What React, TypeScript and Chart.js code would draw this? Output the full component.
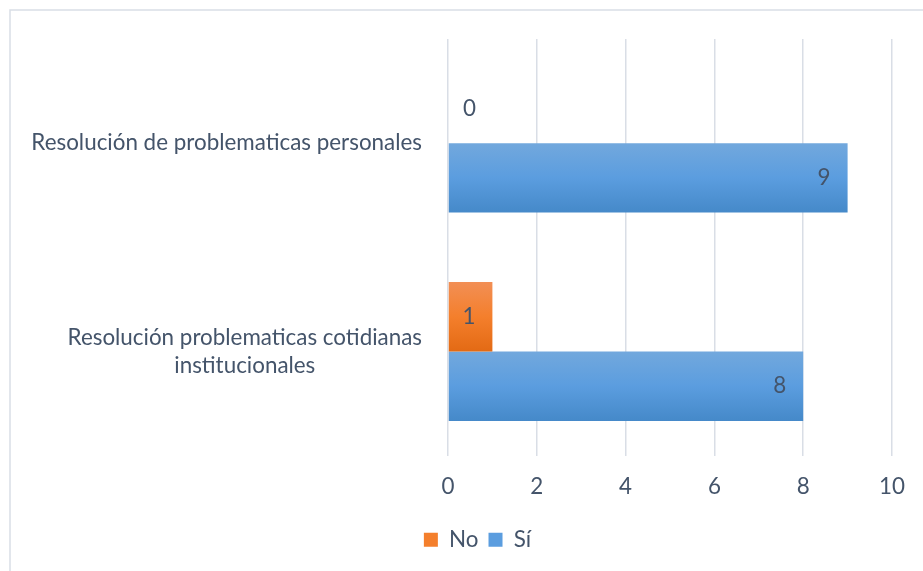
import { useEffect, useRef } from 'react';
import { Chart, registerables } from 'chart.js';
Chart.register(...registerables);

const categories: string[][] = [
  ['Resolución de problematicas personales'],
  ['Resolución problematicas cotidianas', 'institucionales'],
];
const seriesNames = ['No', 'Sí'];
const noValues = [0, 1];
const siValues = [9, 8];
const xMin = 0;
const xMax = 10;
const xStep = 2;

const FONT = 'Lato';
const FS = 22.4;
const TEXT = '#44546a';
const GRID = '#d9dee6';
const noStops = ['#f28f55', '#f47f2c', '#e36a14'];
const siStops = ['#72a8dd', '#5b9ddf', '#4589c9'];

const borderPlugin = {
  id: 'outerBorder',
  beforeDraw(chart: any) {
    const ctx = chart.ctx;
    ctx.save();
    ctx.strokeStyle = GRID;
    ctx.lineWidth = 1.5;
    ctx.strokeRect(10, 10, 2000, 2000);
    ctx.restore();
  },
};

const gradientPlugin = {
  id: 'barGradient',
  beforeDatasetsDraw(chart: any) {
    const ctx = chart.ctx;
    chart.data.datasets.forEach((ds: any, di: number) => {
      const meta = chart.getDatasetMeta(di);
      const stops = ds.gradStops;
      meta.data.forEach((el: any) => {
        const { y, height } = el.getProps(['y', 'height'], true);
        const top = y - height / 2;
        const g = ctx.createLinearGradient(0, top, 0, top + height);
        g.addColorStop(0, stops[0]);
        g.addColorStop(0.5, stops[1]);
        g.addColorStop(1, stops[2]);
        el.options = Object.assign({}, el.options, { backgroundColor: g });
      });
    });
  },
};

const valueLabelPlugin = {
  id: 'valueLabels',
  afterDatasetsDraw(chart: any) {
    const ctx = chart.ctx;
    ctx.save();
    ctx.font = `${FS}px ${FONT}`;
    ctx.fillStyle = TEXT;
    ctx.textBaseline = 'middle';
    chart.data.datasets.forEach((ds: any, di: number) => {
      const meta = chart.getDatasetMeta(di);
      meta.data.forEach((el: any, i: number) => {
        const v = ds.data[i];
        const { x, y, base } = el.getProps(['x', 'y', 'base'], true);
        if (v > 0) {
          ctx.textAlign = 'right';
          ctx.fillText(String(v), x - 17, y);
        } else {
          ctx.textAlign = 'left';
          ctx.fillText(String(v), base + 15, y);
        }
      });
    });
    ctx.restore();
  },
};

const categoryLabelPlugin = {
  id: 'categoryLabels',
  afterDraw(chart: any) {
    const ctx = chart.ctx;
    const yScale = chart.scales.y;
    ctx.save();
    ctx.font = `${FS}px ${FONT}`;
    ctx.fillStyle = TEXT;
    ctx.textBaseline = 'middle';
    ctx.textAlign = 'center';
    const right = chart.chartArea.left - 26;
    const lh = 28;
    (chart.data.labels as string[][]).forEach((lines, i) => {
      const cy = yScale.getPixelForValue(i);
      const w = Math.max(...lines.map((l) => ctx.measureText(l).width));
      const cx = right - w / 2;
      lines.forEach((line, j) => {
        ctx.fillText(line, cx, cy + (j - (lines.length - 1) / 2) * lh);
      });
    });
    ctx.restore();
  },
};

export default function App() {
  const ref = useRef<HTMLCanvasElement | null>(null);
  useEffect(() => {
    if (!ref.current) return;
    const chart = new Chart(ref.current, {
      type: 'bar',
      data: {
        labels: categories as any,
        datasets: [
          {
            label: seriesNames[0],
            data: noValues,
            backgroundColor: noStops[1],
            borderWidth: 0,
            gradStops: noStops,
          } as any,
          {
            label: seriesNames[1],
            data: siValues,
            backgroundColor: siStops[1],
            borderWidth: 0,
            gradStops: siStops,
          } as any,
        ],
      },
      options: {
        indexAxis: 'y',
        animation: false,
        responsive: true,
        maintainAspectRatio: false,
        layout: { padding: { left: 63, right: 31, top: 39, bottom: 10 } },
        datasets: { bar: { categoryPercentage: 0.667, barPercentage: 1 } },
        scales: {
          y: {
            type: 'category',
            ticks: { display: false },
            grid: { display: false },
            border: { display: false },
            afterFit: (s: any) => {
              s.width = 385;
            },
          },
          x: {
            min: xMin,
            max: xMax,
            ticks: {
              stepSize: xStep,
              padding: 2,
              color: TEXT,
              font: { family: FONT, size: FS },
            },
            grid: {
              color: GRID,
              lineWidth: 1.5,
              drawTicks: true,
              tickLength: 16,
              tickColor: 'rgba(0,0,0,0)',
            },
            border: { display: false },
            afterFit: (s: any) => {
              s.height = 63;
            },
          },
        },
        plugins: {
          legend: {
            position: 'bottom',
            labels: {
              color: TEXT,
              font: { family: FONT, size: FS },
              boxWidth: 14,
              boxHeight: 14,
              padding: 10,
            },
          },
          tooltip: { enabled: false },
        },
      },
      plugins: [borderPlugin, gradientPlugin, valueLabelPlugin, categoryLabelPlugin],
    });
    return () => chart.destroy();
  }, []);
  return (
    <div style={{ position: 'absolute', left: 0, top: 0, width: 923, height: 571 }}>
      <canvas ref={ref} />
    </div>
  );
}
